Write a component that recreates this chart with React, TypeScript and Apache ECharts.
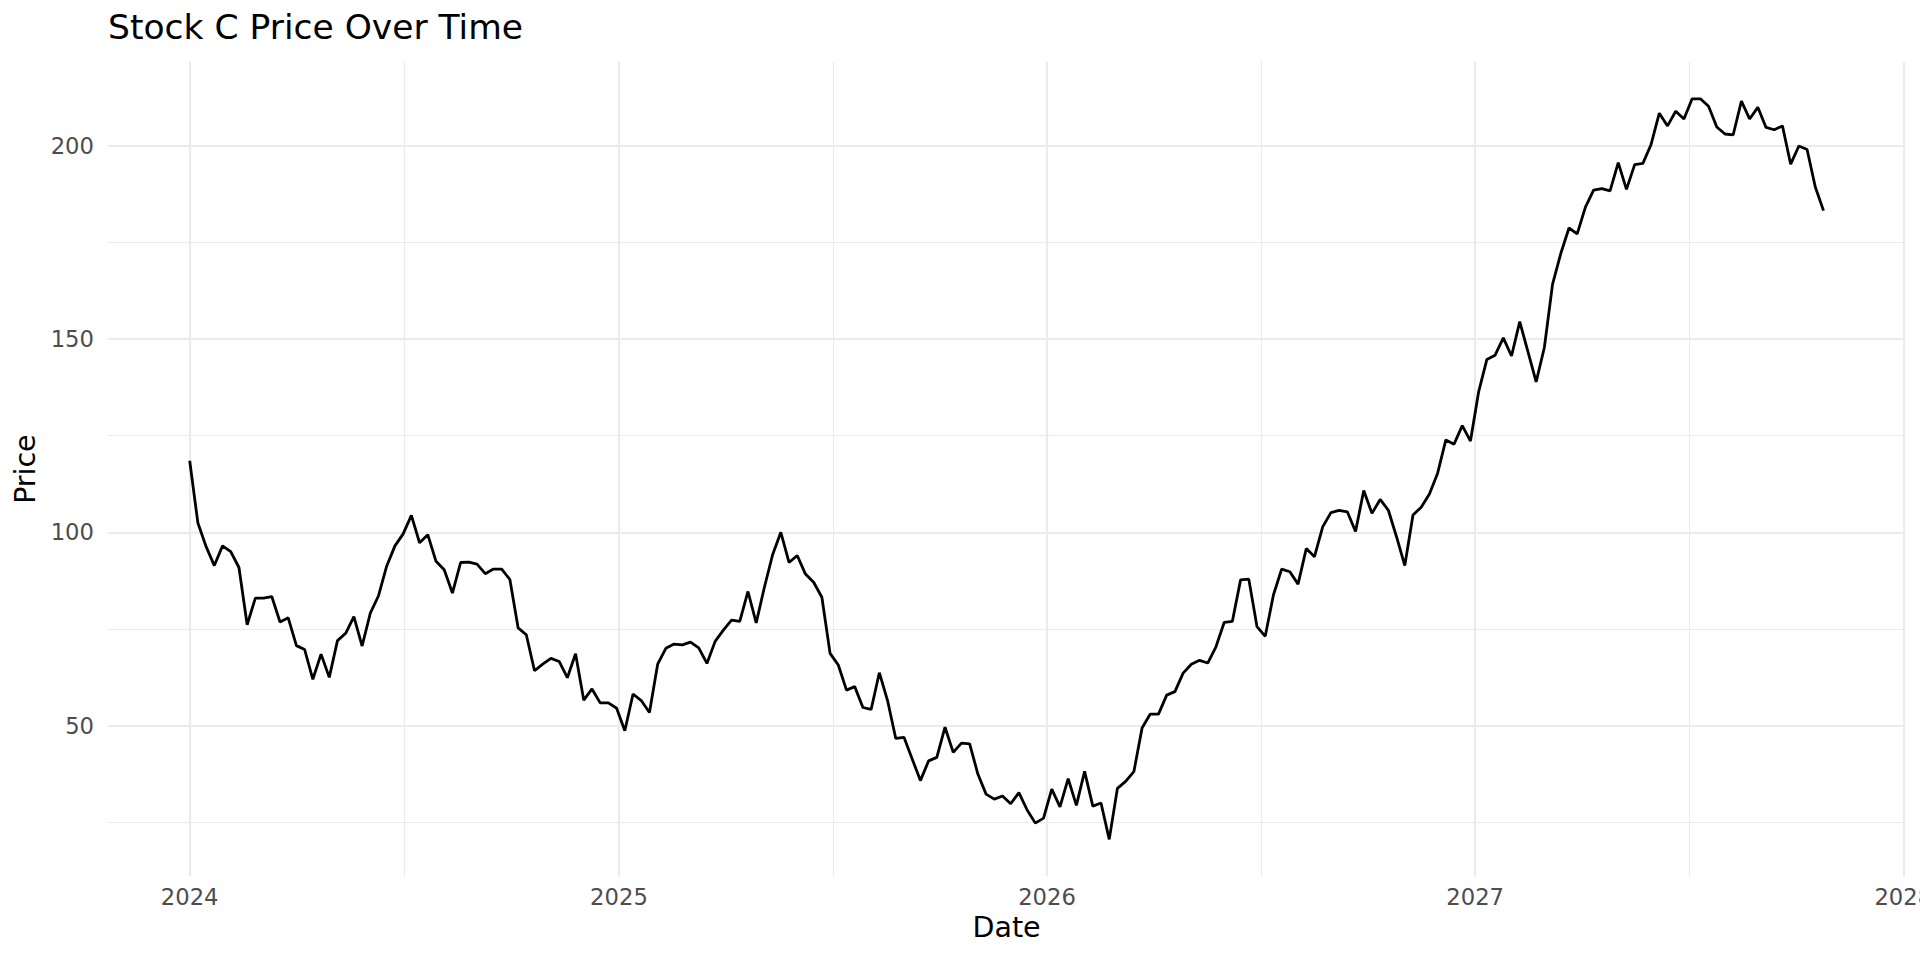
import React, { useEffect, useRef } from "react";
import * as echarts from "echarts";

const DAY = 86400000;
const startDate = Date.UTC(2024, 0, 1);

const prices: number[] = [
  118.5, 102.4, 96.3, 91.4, 96.5, 95.0, 90.9, 76.1, 83.0, 83.0,
  83.4, 76.8, 77.9, 70.7, 69.7, 62.0, 68.5, 62.5, 72.0, 73.9,
  78.2, 70.6, 79.1, 83.6, 91.3, 96.5, 99.6, 104.4, 97.3, 99.4,
  92.5, 90.3, 84.3, 92.2, 92.3, 91.8, 89.3, 90.5, 90.5, 87.8,
  75.3, 73.5, 64.2, 65.9, 67.4, 66.6, 62.4, 68.6, 56.6, 59.5,
  55.9, 55.9, 54.5, 48.7, 58.2, 56.5, 53.4, 65.9, 70.0, 71.1,
  70.9, 71.6, 70.1, 66.1, 71.8, 74.7, 77.3, 77.0, 84.7, 76.6,
  85.8, 94.2, 100.0, 92.2, 94.0, 89.2, 87.1, 83.2, 68.7, 65.7,
  59.2, 60.1, 54.7, 54.2, 63.7, 56.5, 46.7, 47.0, 41.4, 35.8,
  40.9, 41.8, 49.6, 43.1, 45.5, 45.3, 37.5, 32.3, 31.0, 31.8,
  29.8, 32.7, 28.2, 24.8, 26.1, 33.6, 29.0, 36.3, 29.4, 38.2,
  29.2, 30.0, 20.6, 33.8, 35.6, 38.1, 49.4, 53.0, 53.0, 57.9,
  58.8, 63.6, 65.9, 66.9, 66.2, 70.4, 76.7, 77.0, 87.7, 87.9,
  75.6, 73.1, 83.8, 90.5, 89.8, 86.6, 95.8, 93.7, 101.4, 105.1,
  105.7, 105.3, 100.2, 110.8, 104.9, 108.5, 105.7, 98.8, 91.4, 104.5,
  106.5, 109.9, 115.3, 123.9, 122.8, 127.6, 123.6, 136.4, 144.7, 145.8,
  150.3, 145.6, 154.5, 146.7, 138.9, 147.8, 164.2, 172.1, 178.7, 177.2,
  184.1, 188.5, 188.9, 188.3, 195.6, 188.7, 195.1, 195.4, 200.3, 208.4,
  205.1, 208.9, 206.9, 212.1, 212.1, 210.2, 204.8, 203.0, 202.8, 211.5,
  206.9, 209.9, 204.7, 204.1, 205.1, 195.2, 199.9, 199.0, 189.3, 183.2,
];

// weekly observations starting 2024-01-01
const dates: number[] = prices.map((_, i) => startDate + i * 7 * DAY);

const xMajorYears = [2024, 2025, 2026, 2027, 2028];
const yMajorTicks = [50, 100, 150, 200];
const yMinorTicks = [25, 75, 125, 175];

const FONT = "DejaVu Sans";

export default function App() {
  const ref = useRef<HTMLDivElement>(null);

  useEffect(() => {
    const chart = echarts.init(ref.current!, null, { renderer: "svg" });

    const xFirst = dates[0];
    const xLast = dates[dates.length - 1];
    const xSpan = xLast - xFirst;
    const xMin = xFirst - 0.05 * xSpan;
    const xMax = xLast + 0.05 * xSpan;

    const yLo = Math.min(...prices);
    const yHi = Math.max(...prices);
    const ySpan = yHi - yLo;
    const yMin = yLo - 0.05 * ySpan;
    const yMax = yHi + 0.05 * ySpan;

    const xMajor = xMajorYears.map((y) => Date.UTC(y, 0, 1));
    const xMinor = xMajor.slice(0, -1).map((t, i) => (t + xMajor[i + 1]) / 2);

    const gridColor = "#EBEBEB";
    const labelStyle = { color: "#4D4D4D", fontSize: 22.7, fontFamily: FONT };

    chart.setOption({
      animation: false,
      backgroundColor: "#FFFFFF",
      title: {
        text: "Stock C Price Over Time",
        left: 108,
        top: 9,
        padding: 0,
        textStyle: { color: "#000000", fontSize: 34.5, fontWeight: "normal", fontFamily: FONT },
      },
      grid: {
        left: 108,
        right: 14.8,
        top: 61.8,
        bottom: 83.6,
        containLabel: false,
        outerBoundsMode: "none",
      },
      xAxis: [
        {
          type: "value",
          min: xMin,
          max: xMax,
          position: "bottom",
          name: "Date",
          nameLocation: "middle",
          nameGap: 35,
          nameTextStyle: { color: "#000000", fontSize: 28.5, fontFamily: FONT },
          axisLine: { show: false },
          axisTick: { show: false, customValues: xMajor },
          axisLabel: {
            show: true,
            customValues: xMajor,
            margin: 9,
            hideOverlap: false,
            ...labelStyle,
            formatter: (v: number) => String(new Date(v).getUTCFullYear()),
          },
          splitLine: { show: true, lineStyle: { color: gridColor, width: 2.2 } },
        },
        {
          type: "value",
          min: xMin,
          max: xMax,
          position: "bottom",
          axisLine: { show: false },
          axisTick: { show: false, customValues: xMinor },
          axisLabel: { show: false, customValues: xMinor },
          splitLine: { show: true, lineStyle: { color: gridColor, width: 1.1 } },
        },
      ],
      yAxis: [
        {
          type: "value",
          min: yMin,
          max: yMax,
          position: "left",
          name: "Price",
          nameLocation: "middle",
          nameGap: 66,
          nameTextStyle: { color: "#000000", fontSize: 28.5, fontFamily: FONT },
          axisLine: { show: false },
          axisTick: { show: false, customValues: yMajorTicks },
          axisLabel: { show: true, customValues: yMajorTicks, margin: 14, ...labelStyle },
          splitLine: { show: true, lineStyle: { color: gridColor, width: 2.2 } },
        },
        {
          type: "value",
          min: yMin,
          max: yMax,
          position: "left",
          axisLine: { show: false },
          axisTick: { show: false, customValues: yMinorTicks },
          axisLabel: { show: false, customValues: yMinorTicks },
          splitLine: { show: true, lineStyle: { color: gridColor, width: 1.1 } },
        },
      ],
      series: [
        {
          type: "line",
          name: "Stock C",
          xAxisIndex: 0,
          yAxisIndex: 0,
          data: dates.map((t, i) => [t, prices[i]]),
          showSymbol: false,
          symbol: "none",
          lineStyle: { color: "#000000", width: 2.8 },
          emphasis: { disabled: true },
          silent: true,
        },
      ],
    });

    return () => chart.dispose();
  }, []);

  return (
    <div
      ref={ref}
      style={{ position: "fixed", left: 0, top: 0, width: 1920, height: 960, background: "#fff" }}
    />
  );
}
